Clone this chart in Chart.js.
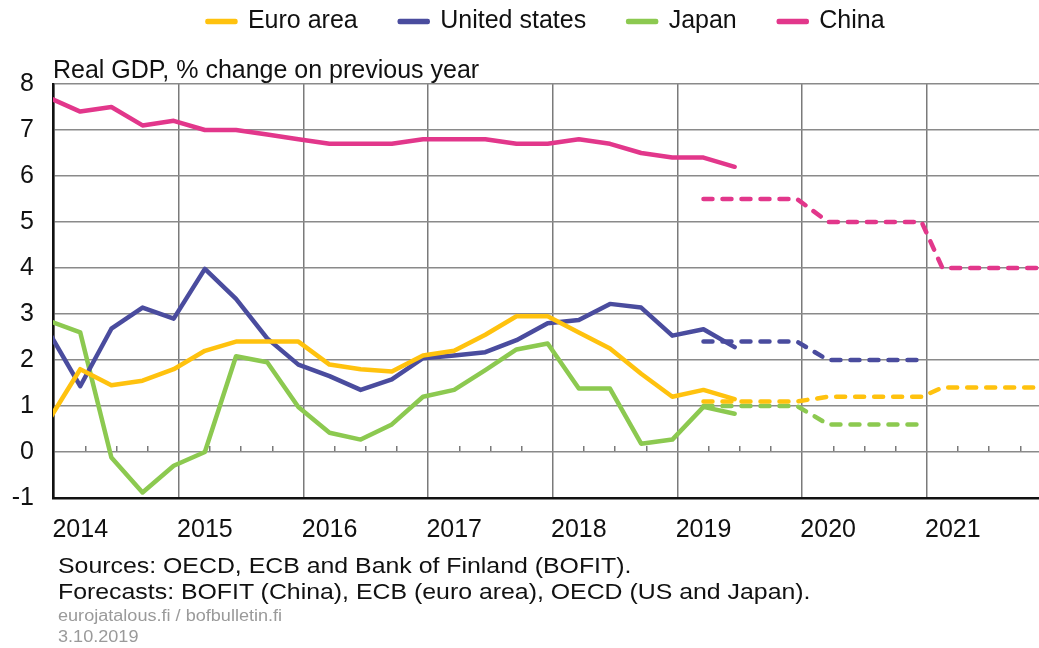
<!DOCTYPE html>
<html>
<head>
<meta charset="utf-8">
<script src="https://cdn.jsdelivr.net/npm/chart.js@4.4.1/dist/chart.umd.min.js"></script>
<style>
  html, body { margin: 0; padding: 0; background: #fff; }
  #wrap { position: relative; width: 1039px; height: 648px; overflow: hidden; }
  canvas { position: absolute; left: 0; top: 0; }
  .note { position: absolute; left: 58px; white-space: nowrap; font-family: "Liberation Sans", Arial, sans-serif;
          transform-origin: 0 50%; transform: scaleX(1.13); line-height: 1; }
</style>
</head>
<body>
<div id="wrap">
  <canvas id="c" width="1039" height="648"></canvas>
  <div class="note" style="top:555px;font-size:22px;color:#111;">Sources: OECD, ECB and Bank of Finland (BOFIT).</div>
  <div class="note" style="top:581px;font-size:22px;color:#111;">Forecasts: BOFIT (China), ECB (euro area), OECD (US and Japan).</div>
  <div class="note" style="top:608px;font-size:16px;color:#9a9a9a;">eurojatalous.fi / bofbulletin.fi</div>
  <div class="note" style="top:629px;font-size:16px;color:#9a9a9a;">3.10.2019</div>
</div>
<script>
// ---- data ----
const quarters = ['2013Q4',
  '2014Q1','2014Q2','2014Q3','2014Q4',
  '2015Q1','2015Q2','2015Q3','2015Q4',
  '2016Q1','2016Q2','2016Q3','2016Q4',
  '2017Q1','2017Q2','2017Q3','2017Q4',
  '2018Q1','2018Q2','2018Q3','2018Q4',
  '2019Q1','2019Q2'];
const euroArea     = [0.7, 1.8, 1.45, 1.55, 1.8, 2.2, 2.4, 2.4, 2.4, 1.9, 1.8, 1.75, 2.1, 2.2, 2.55, 2.95, 2.95, 2.6, 2.25, 1.7, 1.2, 1.35, 1.15];
const unitedStates = [2.6, 1.43, 2.68, 3.14, 2.9, 3.98, 3.33, 2.47, 1.9, 1.65, 1.35, 1.58, 2.04, 2.1, 2.17, 2.43, 2.8, 2.87, 3.22, 3.14, 2.53, 2.67, 2.28];
const japan        = [2.85, 2.6, -0.12, -0.88, -0.3, 0.0, 2.08, 1.95, 0.98, 0.42, 0.27, 0.6, 1.2, 1.35, 1.78, 2.23, 2.36, 1.38, 1.38, 0.18, 0.27, 0.98, 0.83];
const china        = [7.7, 7.4, 7.5, 7.1, 7.2, 7.0, 7.0, 6.9, 6.8, 6.7, 6.7, 6.7, 6.8, 6.8, 6.8, 6.7, 6.7, 6.8, 6.7, 6.5, 6.4, 6.4, 6.2];

const forecastMonths = ['2019-03','2019-12','2020-03','2020-12','2021-02','2021-12'];
const euroForecast   = [1.1, 1.1, 1.2, 1.2, 1.4, 1.4];
const usForecast     = [2.4, 2.4, 2.0, 2.0, null, null];
const japanForecast  = [1.0, 1.0, 0.6, 0.6, null, null];
const chinaForecast  = [5.5, 5.5, 5.0, 5.0, 4.0, 4.0];

const yearTicks = [2014, 2015, 2016, 2017, 2018, 2019, 2020, 2021];
const yTicks = [-1, 0, 1, 2, 3, 4, 5, 6, 7, 8];

const seriesNames = ['Euro area', 'United states', 'Japan', 'China'];
const colors = ['#FFC20E', '#4A4C9E', '#8CC950', '#E2378B'];

// ---- helpers: dates to decimal years (mid of the month) ----
function monthToYear(y, m) { return y + (m - 0.5) / 12; }
function quarterToYear(q) { const y = +q.slice(0, 4), n = +q.slice(5); return monthToYear(y, n * 3); }
function ymToYear(s) { return monthToYear(+s.slice(0, 4), +s.slice(5)); }

const qx = quarters.map(quarterToYear);
const fx = forecastMonths.map(ymToYear);
const pts = (xs, ys) => xs.map((x, i) => ({ x, y: ys[i] })).filter(p => p.y !== null);

const solid = [euroArea, unitedStates, japan, china];
const fcast = [euroForecast, usForecast, japanForecast, chinaForecast];

const datasets = [];
solid.forEach((vals, i) => datasets.push({
  label: seriesNames[i], data: pts(qx, vals), borderColor: colors[i], backgroundColor: colors[i],
  borderWidth: 4.5, pointRadius: 0, tension: 0, borderJoinStyle: 'round', borderCapStyle: 'round', isForecast: false
}));
fcast.forEach((vals, i) => datasets.push({
  label: seriesNames[i] + ' forecast', data: pts(fx, vals), borderColor: colors[i], backgroundColor: colors[i],
  borderWidth: 4.5, borderDash: [9, 10], pointRadius: 0, tension: 0, borderJoinStyle: 'round', borderCapStyle: 'round', isForecast: true
}));

const FONT = { family: '"Liberation Sans", Arial, sans-serif', size: 25 };
const XMIN = 2013.99, XMAX = 2021.90;

new Chart(document.getElementById('c'), {
  type: 'line',
  data: { datasets },
  options: {
    responsive: false, animation: false, devicePixelRatio: 1,
    layout: { padding: { top: -33, left: 0, right: 0, bottom: 110 } },
    plugins: {
      tooltip: { enabled: false },
      legend: {
        display: true, position: 'top', fullSize: false, maxHeight: 79,
        labels: {
          font: FONT, color: '#111', boxWidth: 28, boxHeight: 1, padding: 42,
          filter: (item, data) => !data.datasets[item.datasetIndex].isForecast
        }
      },
      title: {
        display: true, text: 'Real GDP, % change on previous year', align: 'start', fullSize: false,
        weight: 500, color: '#111', font: { family: FONT.family, size: 25, weight: 'normal', lineHeight: 1 },
        padding: { top: 15, bottom: 0 }
      }
    },
    scales: {
      x: {
        type: 'linear', min: XMIN, max: XMAX, position: 'bottom',
        afterBuildTicks: a => { a.ticks = yearTicks.map(v => ({ value: v })); },
        afterFit: a => { a.height = 40; },
        ticks: { font: FONT, color: '#111', labelOffset: 26, padding: 17, maxRotation: 0, autoSkip: false,
                 callback: v => String(v) },
        grid: { color: '#7a7a7a', lineWidth: 1.5, drawTicks: false },
        border: { display: true, color: '#111', width: 2.5 }
      },
      xq: {
        axis: 'x', type: 'linear', min: XMIN, max: XMAX, position: { y: 0 },
        afterBuildTicks: a => {
          const t = [];
          yearTicks.forEach(y => [0.25, 0.5, 0.75].forEach(f => t.push({ value: y + f })));
          a.ticks = t;
        },
        ticks: { display: false },
        grid: { drawOnChartArea: false, drawTicks: true, tickLength: -6, color: '#7a7a7a', lineWidth: 1.5 },
        border: { display: false }
      },
      y: {
        type: 'linear', min: -1, max: 8, position: 'left',
        afterBuildTicks: a => { a.ticks = yTicks.map(v => ({ value: v })); },
        afterFit: a => { a.width = 53; },
        ticks: { font: FONT, color: '#111', padding: 19, callback: v => String(v) },
        grid: { color: '#8a8a8a', lineWidth: 1.5, drawTicks: false },
        border: { display: true, color: '#111', width: 2.5 }
      }
    }
  }
});
</script>
</body>
</html>
